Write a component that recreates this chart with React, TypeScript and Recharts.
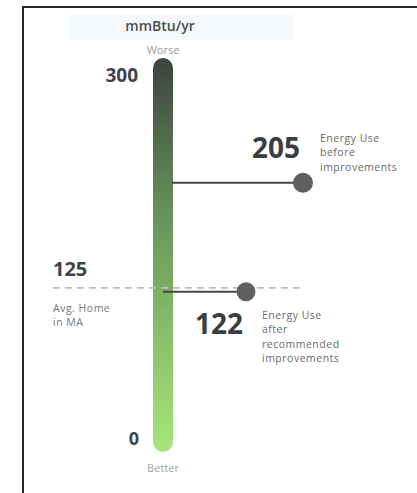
import React from "react";
import {
  ComposedChart,
  XAxis,
  YAxis,
  ReferenceArea,
  ReferenceLine,
  ReferenceDot,
} from "recharts";

// ---- data ----
const gaugeRange = [0, 300];
const gaugeTickLabels = ["300", "0"];
const unitLabel = "mmBtu/yr";
const endLabels = ["Worse", "Better"];

const markerValues = [205, 122];
const markerNumberLabels = ["205", "122"];
const markerTexts = [
  ["Energy Use", "before", "improvements"],
  ["Energy Use", "after", "recommended", "improvements"],
];

const averageValue = 125;
const averageNumberLabel = "125";
const averageText = ["Avg. Home", "in MA"];

// ---- layout (pixels) ----
const W = 417;
const H = 493;
const FONT = "'Open Sans', 'Noto Sans', sans-serif";
const BAR_X1 = 153;
const BAR_X2 = 173;
const BAR_CX = 163;
const SMALL = 10.5;
const LINE_GAP = 14.4;

const GaugeShape = (props: any) => {
  const { x, y, width, height } = props;
  return (
    <rect
      x={x}
      y={y}
      width={width}
      height={height}
      rx={10}
      ry={10}
      fill="url(#gaugeGrad)"
    />
  );
};

const GaugeLabel = (props: any) => {
  const vb = props.viewBox || {};
  const top = vb.y;
  const bottom = vb.y + vb.height;
  const cx = vb.x + vb.width / 2;
  return (
    <g fontFamily={FONT}>
      <text x={cx - 3} y={top - 33} textAnchor="middle" dominantBaseline="central" fontSize={14} fontWeight={600} fill="#4d4d4d">
        {unitLabel}
      </text>
      <text x={cx} y={top - 9} textAnchor="middle" dominantBaseline="central" fontSize={11} fill="#9a9a9a">
        {endLabels[0]}
      </text>
      <text x={vb.x - 15} y={top + 17} textAnchor="end" dominantBaseline="central" fontSize={19} fontWeight={700} fill="#3d4350">
        {gaugeTickLabels[0]}
      </text>
      <text x={vb.x - 14} y={bottom - 14} textAnchor="end" dominantBaseline="central" fontSize={18} fontWeight={700} fill="#3d4350">
        {gaugeTickLabels[1]}
      </text>
      <text x={cx} y={bottom + 15} textAnchor="middle" dominantBaseline="central" fontSize={11} fill="#a3a3a3">
        {endLabels[1]}
      </text>
    </g>
  );
};

const makeMarkerLabel = (i: number) => (props: any) => {
  const vb = props.viewBox || {};
  const cx = vb.x + vb.width / 2;
  const cy = vb.y + vb.height / 2;
  const lines = markerTexts[i];
  const before = i === 0;
  const numX = cx - 3;
  const numY = before ? cy - 36 : cy + 31;
  const txtX = before ? cx + 17 : cx + 16;
  const txtY = before ? cy - 45 : cy + 23;
  return (
    <g fontFamily={FONT}>
      <text x={numX} y={numY} textAnchor="end" dominantBaseline="central" fontSize={28} fontWeight={700} fill="#3a3d42">
        {markerNumberLabels[i]}
      </text>
      {lines.map((t, k) => (
        <text key={k} x={txtX} y={txtY + k * LINE_GAP} dominantBaseline="central" fontSize={SMALL} letterSpacing={0.5} fill="#6a6a6a">
          {t}
        </text>
      ))}
    </g>
  );
};

const AverageLabel = (props: any) => {
  const vb = props.viewBox || {};
  const x = vb.x;
  const y = vb.y;
  return (
    <g fontFamily={FONT}>
      <text x={x} y={y - 19} dominantBaseline="central" fontSize={20} fontWeight={700} fill="#3d4350">
        {averageNumberLabel}
      </text>
      {averageText.map((t, k) => (
        <text key={k} x={x} y={y + 20 + k * LINE_GAP} dominantBaseline="central" fontSize={SMALL} letterSpacing={0.5} fill="#777">
          {t}
        </text>
      ))}
    </g>
  );
};

export default function App() {
  return (
    <div style={{ position: "absolute", left: 0, top: 0, width: W, height: H, background: "#fff", overflow: "hidden" }}>
      <div style={{ position: "absolute", left: 68, top: 15, width: 227, height: 25, background: "#f5f9fc" }} />
      <div
        style={{
          position: "absolute",
          left: 22,
          top: 6,
          width: W - 22,
          height: H - 6,
          borderTop: "2px solid #262626",
          borderLeft: "2px solid #262626",
          boxSizing: "border-box",
        }}
      />
      <div style={{ position: "absolute", left: 0, top: 0 }}>
        <ComposedChart width={W} height={H} data={[]} margin={{ top: 58, right: 0, bottom: 41, left: 0 }}>
          <defs>
            <linearGradient id="gaugeGrad" x1="0" y1="0" x2="0" y2="1">
              <stop offset="0%" stopColor="#3c443f" />
              <stop offset="40%" stopColor="#67935a" />
              <stop offset="75%" stopColor="#8cc66c" />
              <stop offset="100%" stopColor="#a6e67a" />
            </linearGradient>
          </defs>
          <XAxis type="number" dataKey="x" domain={[0, W]} hide allowDataOverflow />
          <YAxis type="number" domain={gaugeRange} hide allowDataOverflow />
          <ReferenceArea
            x1={BAR_X1}
            x2={BAR_X2}
            y1={gaugeRange[0]}
            y2={gaugeRange[1]}
            shape={GaugeShape}
            label={<GaugeLabel />}
            ifOverflow="visible"
          />
          <ReferenceLine
            segment={[
              { x: 53, y: averageValue },
              { x: 303, y: averageValue },
            ]}
            stroke="#bdbdbd"
            strokeWidth={1.6}
            strokeDasharray="7 5"
            label={<AverageLabel />}
            ifOverflow="visible"
          />
          <ReferenceLine
            segment={[
              { x: BAR_X2 - 1, y: markerValues[0] },
              { x: 303, y: markerValues[0] },
            ]}
            stroke="#474747"
            strokeWidth={2}
            ifOverflow="visible"
          />
          <ReferenceLine
            segment={[
              { x: BAR_CX, y: markerValues[1] },
              { x: 246, y: markerValues[1] },
            ]}
            stroke="#474747"
            strokeWidth={2}
            ifOverflow="visible"
          />
          <ReferenceDot
            x={303}
            y={markerValues[0]}
            r={10}
            fill="#5f6062"
            stroke="none"
            label={makeMarkerLabel(0)}
            ifOverflow="visible"
          />
          <ReferenceDot
            x={246}
            y={markerValues[1]}
            r={9.5}
            fill="#5f6062"
            stroke="none"
            label={makeMarkerLabel(1)}
            ifOverflow="visible"
          />
        </ComposedChart>
      </div>
    </div>
  );
}
